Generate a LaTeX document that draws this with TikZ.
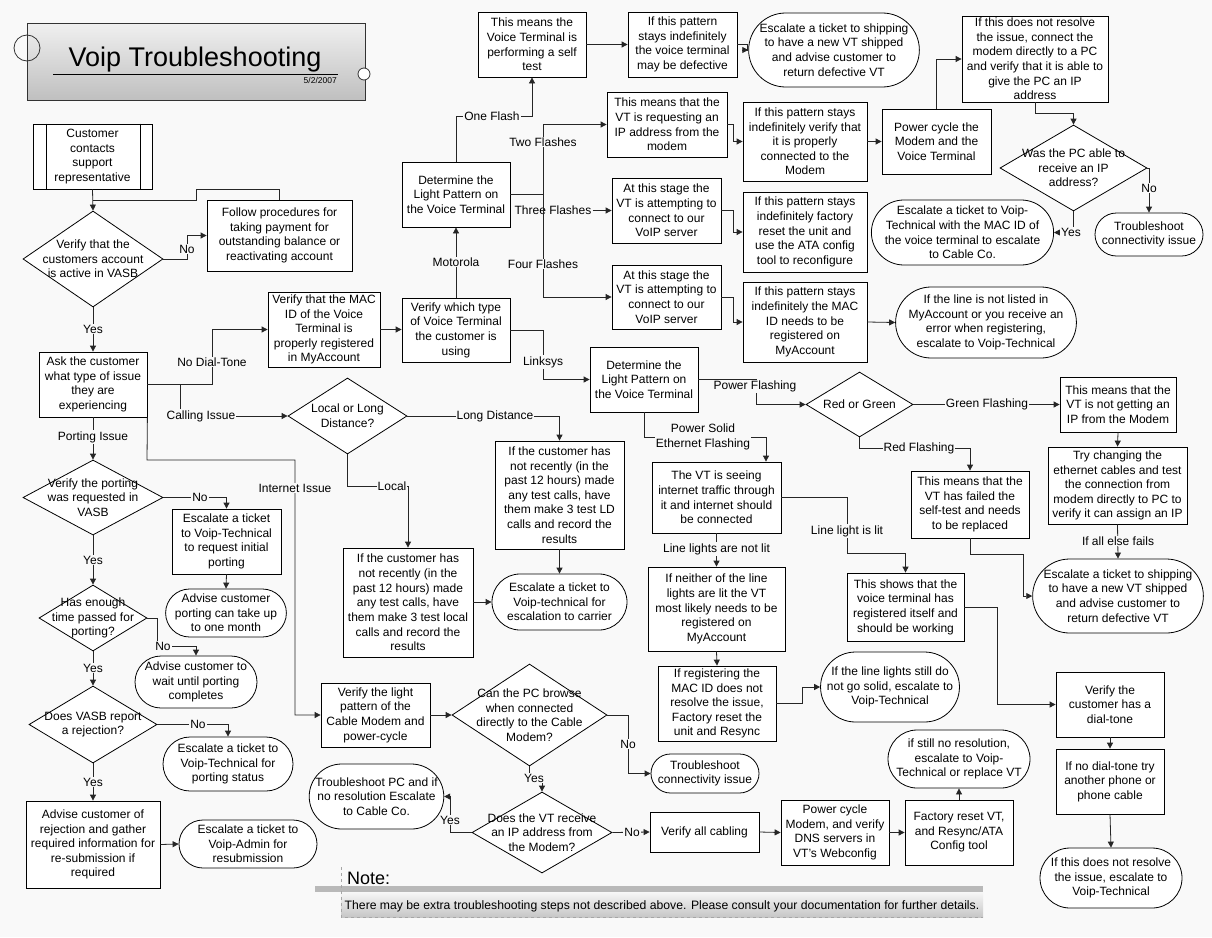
\documentclass[tikz,border=0pt]{standalone}
\usepackage{fontspec}
\setmainfont{Liberation Sans}
\usetikzlibrary{shapes.geometric,shapes.misc,arrows.meta}
\newcommand\myfs{\fontsize{12}{14.6}\selectfont}
\definecolor{bgc}{gray}{0.975}
\begin{document}
\begin{tikzpicture}[x=1pt,y=-1pt,
  base/.style={font=\myfs, align=center, inner sep=0pt},
  bx/.style={base, rectangle, draw=black, fill=white, line width=0.8pt},
  tm/.style={base, rounded rectangle, draw=black, fill=white, line width=0.8pt},
  dm/.style={diamond, draw=black, fill=white, line width=0.8pt, inner sep=0pt},
  sz/.style 2 args={minimum width=#1pt, minimum height=#2pt},
  lab/.style={font=\myfs, fill=bgc, inner sep=1pt, align=center},
  ln/.style={draw=black!85, line width=0.8pt},
  ar/.style={ln, -{Triangle[length=6pt,width=6pt]}}]
\useasboundingbox (0,0) rectangle (1212,937);
\fill[bgc] (0,0) rectangle (1212,937);

% ---------- title ----------
\node[draw=black!80, line width=0.8pt, top color=gray!12, bottom color=gray!50, sz={338}{77}] (title) at (196,61.5) {};
\node[circle, draw=black!80, line width=0.8pt, minimum size=26pt, inner sep=0pt] (tc1) at (27,48) {};
\node[circle, draw=black!80, line width=0.8pt, fill=white, minimum size=12pt, inner sep=0pt] (tc2) at (364,74) {};
\node[font=\fontsize{27}{30}\selectfont, anchor=base, inner sep=0pt] (ttl) at (195,66) {Voip Troubleshooting};
\coordinate (ul1) at (53,74); \coordinate (ul2) at (338,74);
\draw[line width=0.8pt] (ul1) -- (ul2);
\node[font=\fontsize{8.5}{10}\selectfont, anchor=base east, inner sep=0pt] (date) at (337,83) {5/2/2007};

% ---------- left column ----------
\node[bx, sz={119}{65}] (start) at (92.5,156.5) {Customer\\contacts\\support\\representative};
\draw[line width=0.8pt] ([xshift=14pt]start.north west) -- ([xshift=14pt]start.south west);
\draw[line width=0.8pt] ([xshift=-12pt]start.north east) -- ([xshift=-12pt]start.south east);
\node[dm, sz={140}{96}] (d1) at (93,259) {};
\node[base] (d1t) at (d1) {Verify that the\\customers account\\is active in VASB};
\node[bx, sz={145}{71}] (follow) at (279.5,235.5) {Follow procedures for\\taking payment for\\outstanding balance or\\reactivating account};
\node[bx, sz={108}{65}] (ask) at (93,384.5) {Ask the customer\\what type of issue\\they are\\experiencing};
\node[dm, sz={140}{75}] (d2) at (93,497.5) {};
\node[base] (d2t) at (d2) {Verify the porting\\was requested in\\VASB};
\node[bx, sz={109}{65}] (escport) at (226.5,541.5) {Escalate a ticket\\to Voip-Technical\\to request initial\\porting};
\node[tm, sz={112}{48}] (advport) at (226,613) {Advise customer\\porting can take up\\to one month};
\node[dm, sz={108}{66}] (d3) at (93,618) {};
\node[base] (d3t) at (d3) {Has enough\\time passed for\\porting?};
\node[tm, sz={122}{52}] (advwait) at (196,682) {Advise customer to\\wait until porting\\completes};
\node[dm, sz={128}{77}] (d4) at (93,724.5) {};
\node[base] (d4t) at (d4) {Does VASB report\\a rejection?};
\node[tm, sz={130}{54}] (escstat) at (228,764) {Escalate a ticket to\\Voip-Technical for\\porting status};
\node[bx, sz={134}{87}] (advrej) at (93,844.5) {Advise customer of\\rejection and gather\\required information for\\re-submission if\\required};
\node[tm, sz={138}{48}] (escadmin) at (248,844) {Escalate a ticket to\\Voip-Admin for\\resubmission};

% ---------- no dial tone ----------
\node[bx, sz={112}{75}] (mac) at (324,329.5) {Verify that the MAC\\ID of the Voice\\Terminal is\\properly registered\\in MyAccount};
\node[bx, sz={108}{64}] (vtype) at (456,330) {Verify which type\\of Voice Terminal\\the customer is\\using};
\node[bx, sz={108}{65}] (detm) at (456,194.5) {Determine the\\Light Pattern on\\the Voice Terminal};
\node[bx, sz={108}{65}] (selftest) at (532,44.5) {This means the\\Voice Terminal is\\performing a self\\test};
\node[bx, sz={109}{65}] (defect) at (682.5,44.5) {If this pattern\\stays indefinitely\\the voice terminal\\may be defective};
\node[tm, sz={158}{74}] (ship1) at (834,50) {Escalate a ticket to shipping\\to have a new VT shipped\\and advise customer to\\return defective VT};
\node[bx, sz={120}{65}] (reqip) at (667,124.5) {This means that the\\VT is requesting an\\IP address from the\\modem};
\node[bx, sz={109}{65}] (att1) at (666.5,210.5) {At this stage the\\VT is attempting to\\connect to our\\VoIP server};
\node[bx, sz={109}{64}] (att2) at (666.5,297) {At this stage the\\VT is attempting to\\connect to our\\VoIP server};
\node[bx, sz={124}{79}] (verconn) at (805,141.5) {If this pattern stays\\indefinitely verify that\\it is properly\\connected to the\\Modem};
\node[bx, sz={124}{80}] (facres) at (805,232) {If this pattern stays\\indefinitely factory\\reset the unit and\\use the ATA config\\tool to reconfigure};
\node[bx, sz={124}{80}] (macreg) at (805,322) {If this pattern stays\\indefinitely the MAC\\ID needs to be\\registered on\\MyAccount};
\node[tm, sz={168}{71}] (notlisted) at (986,322.5) {If the line is not listed in\\MyAccount or you receive an\\error when registering,\\escalate to Voip-Technical};
\node[bx, sz={109}{65}] (pwrcyc) at (936.5,141.5) {Power cycle the\\Modem and the\\Voice Terminal};
\node[bx, sz={146}{86}] (notres) at (1035,59) {If this does not resolve\\the issue, connect the\\modem directly to a PC\\and verify that it is able to\\give the PC an IP\\address};
\node[dm, sz={147}{86}] (d5) at (1073.5,168) {};
\node[base] (d5t) at (d5) {Was the PC able to\\receive an IP\\address?};
\node[tm, sz={108}{43}] (tsconn1) at (1149,234.5) {Troubleshoot\\connectivity issue};
\node[tm, sz={169}{65}] (esccable) at (962.5,232.5) {Escalate a ticket to Voip-\\Technical with the MAC ID of\\the voice terminal to escalate\\to Cable Co.};

% ---------- linksys ----------
\node[bx, sz={108}{65}] (detl) at (644,379.5) {Determine the\\Light Pattern on\\the Voice Terminal};
\node[dm, sz={107}{65}] (rg) at (859.5,404.5) {};
\node[base] (rgt) at (rg) {Red or Green};
\node[bx, sz={116}{55}] (notip) at (1118,404.5) {This means that the\\VT is not getting an\\IP from the Modem};
\node[bx, sz={139}{77}] (trych) at (1117.5,485.5) {Try changing the\\ethernet cables and test\\the connection from\\modem directly to PC to\\verify it can assign an IP};
\node[tm, sz={158}{74}] (ship2) at (1118,596) {Escalate a ticket to shipping\\to have a new VT shipped\\and advise customer to\\return defective VT};
\node[bx, sz={118}{67}] (failed) at (970,504.5) {This means that the\\VT has failed the\\self-test and needs\\to be replaced};
\node[bx, sz={129}{71}] (seeing) at (716.5,497.5) {The VT is seeing\\internet traffic through\\it and internet should\\be connected};
\node[bx, sz={137}{84}] (neither) at (716.5,609) {If neither of the line\\lights are lit the VT\\most likely needs to be\\registered on\\MyAccount};
\node[bx, sz={118}{75}] (regmac) at (717,703.5) {If registering the\\MAC ID does not\\resolve the issue,\\Factory reset the\\unit and Resync};
\node[tm, sz={134}{70}] (linestill) at (890,687) {If the line lights still do\\not go solid, escalate to\\Voip-Technical};
\node[bx, sz={117}{68}] (shows) at (905.5,607) {This shows that the\\voice terminal has\\registered itself and\\should be working};
\node[bx, sz={108}{65}] (dialtone) at (1110,704.5) {Verify the\\customer has a\\dial-tone};
\node[bx, sz={108}{65}] (nodial) at (1110,781.5) {If no dial-tone try\\another phone or\\phone cable};
\node[tm, sz={142}{60}] (finalesc) at (1111,878) {If this does not resolve\\the issue, escalate to\\Voip-Technical};

% ---------- calling issue ----------
\node[dm, sz={119}{76}] (d6) at (347.5,416) {};
\node[base] (d6t) at (d6) {Local or Long\\Distance?};
\node[bx, sz={129}{108}] (ldbox) at (559.5,495) {If the customer has\\not recently (in the\\past 12 hours) made\\any test calls, have\\them make 3 test LD\\calls and record the\\results};
\node[tm, sz={135}{56}] (esccarrier) at (559.5,602) {Escalate a ticket to\\Voip-technical for\\escalation to carrier};
\node[bx, sz={130}{109}] (localbox) at (408,602.5) {If the customer has\\not recently (in the\\past 12 hours) made\\any test calls, have\\them make 3 test local\\calls and record the\\results};

% ---------- internet issue ----------
\node[bx, sz={109}{64}] (cablemod) at (375.5,715) {Verify the light\\pattern of the\\Cable Modem and\\power-cycle};
\node[dm, sz={155}{102}] (d7) at (529.5,715) {};
\node[base] (d7t) at (d7) {Can the PC browse\\when connected\\directly to the Cable\\Modem?};
\node[tm, sz={108}{39}] (tsconn2) at (705,773.5) {Troubleshoot\\connectivity issue};
\node[dm, sz={140}{81}] (d8) at (542,832.5) {};
\node[base] (d8t) at (d8) {Does the VT receive\\an IP address from\\the Modem?};
\node[tm, sz={133}{65}] (tspc) at (376.5,796.5) {Troubleshoot PC and if\\no resolution Escalate\\to Cable Co.};
\node[bx, sz={109}{40}] (cabling) at (704.5,832) {Verify all cabling};
\node[bx, sz={108}{65}] (pcdns) at (835,832.5) {Power cycle\\Modem, and verify\\DNS servers in\\VT's Webconfig};
\node[bx, sz={108}{65}] (factvt) at (959,832.5) {Factory reset VT,\\and Resync/ATA\\Config tool};
\node[tm, sz={142}{58}] (stillno) at (959,759) {if still no resolution,\\escalate to Voip-\\Technical or replace VT};

% ---------- connectors: left column ----------
\draw[ar] (start.south) -- (d1.north);
\draw[ar] (d1.east) -- (187,259) |- (follow.west);
\node[lab] (lno1) at (187,249) {No};
\draw[ln] (follow.north) -- (follow.north |- 0,189) -- (196,189) -- (196,200) -- (93,200);
\draw[ar] (d1.south) -- (ask.north);
\node[lab] (lyes1) at (93,329) {Yes};
\draw[ar] (ask.east |- 0,384) -- (212,384) |- (mac.west);
\node[lab] (lndt) at (212,362) {No Dial-Tone};
\draw[ar] (180,384) -- (180,416) -- (d6.west);
\node[lab] (lcall) at (201,416) {Calling Issue};
\draw[ar] (ask.south east) -- (147,460) -- (295,460) |- (cablemod.west);
\node[lab] (lint) at (295,488) {Internet Issue};
\draw[ar] (ask.south) -- (d2.north);
\node[lab] (lport) at (93,437) {Porting Issue};
\draw[ar] (d2.east) -| (escport.north);
\node[lab] (lno2) at (200,497.5) {No};
\draw[ar] (escport.south) -- (advport.north);
\draw[ar] (d2.south) -- (d3.north);
\node[lab] (lyes2) at (93,560) {Yes};
\draw[ar] (d3.east) -- (157,618) -- (157,646) -| (advwait.north);
\node[lab] (lno3) at (163,646) {No};
\draw[ar] (d3.south) -- (d4.north);
\node[lab] (lyes3) at (93,668) {Yes};
\draw[ar] (d4.east) -| (escstat.north);
\node[lab] (lno4) at (198,724.5) {No};
\draw[ar] (d4.south) -- (advrej.north);
\node[lab] (lyes4) at (93,782) {Yes};
\draw[ar] (advrej.east) -- (escadmin.west);

% ---------- connectors: motorola ----------
\draw[ar] (mac.east) -- (mac.east -| vtype.west);
\draw[ar] (vtype.north) -- (detm.south);
\node[lab] (lmot) at (456,262) {Motorola};
\draw[ar] (detm.north) -- (detm.north |- 0,116) -| (selftest.south);
\node[lab] (lone) at (492,116) {One Flash};
\draw[ar] (selftest.east) -- (defect.west);
\draw[ar] (defect.east) -- (747,44.5) |- (ship1.west);
\draw[draw=black!85, line width=1.4pt] (detm.east) -- (543,194.5);
\draw[ln] (543,124.5) -- (543,297);
\draw[ar] (543,124.5) -- (reqip.west);
\node[lab] (ltwo) at (543,142) {Two Flashes};
\node[lab] (lthree) at (553,210.5) {Three Flashes};
\draw[ar] (lthree.east) -- (att1.west);
\draw[ln] (543,202) -- (543,219);
\draw[ar] (543,297) -- (att2.west);
\node[lab] (lfour) at (543,264) {Four Flashes};
\draw[ar] (reqip.east) -- (733,124.5) |- (verconn.west);
\draw[ar] (att1.east) -- (733,210.5) |- (facres.west);
\draw[ar] (att2.east) -- (733,297) |- (macreg.west);
\draw[ar] (macreg.east) -- (notlisted.west);
\draw[ar] (verconn.east) -- (pwrcyc.west);
\draw[ar] (pwrcyc.north) |- (notres.west);
\draw[ar] (notres.south) -- (1035,113) -| (d5.north);
\draw[ar] (d5.east) -| (tsconn1.north);
\node[lab] (lno5) at (1149,188) {No};
\draw[ar] (d5.south) |- (esccable.east);
\node[lab] (lyes5) at (1071,232.5) {Yes};

% ---------- connectors: linksys ----------
\draw[ar] (vtype.east) -- (543,330) |- (detl.west);
\node[lab] (llink) at (543,362) {Linksys};
\draw[ar] (detl.east |- 0,379) -- (756,379) -- (756,404.5) -- (rg.west);
\node[lab] (lpf) at (755,386.5) {Power Flashing};
\draw[ar] (rg.east) -- (notip.west);
\node[lab] (lgf) at (987,404.5) {Green Flashing};
\draw[ar] (notip.south) -- (trych.north);
\draw[ar] (trych.south) -- (ship2.north);
\node[lab] (lelse) at (1118,541) {If all else fails};
\draw[ar] (rg.south) -- (rg.south |- 0,448) -| (failed.north);
\node[lab] (lrf) at (919,448) {Red Flashing};
\draw[ar] (failed.south) -- (970,554) -- (1023,554) |- (ship2.west);
\coordinate (kps) at (766,437);
\draw[ar] (detl.south) |- (kps) -- (kps |- seeing.north);
\node[lab] (lps) at (703,437) {Power Solid\\Ethernet Flashing};
\draw[ar] (seeing.south) -- (neither.north);
\node[lab] (lnotlit) at (716.5,549) {Line lights are not lit};
\draw[ar] (neither.south) -- (regmac.north);
\draw[ar] (regmac.east) -- (802,703.5) |- (linestill.west);
\draw[ar] (seeing.east) -- (847,497.5) -- (847,553) -| (shows.north);
\node[lab] (llit) at (847,531) {Line light is lit};
\draw[ar] (shows.east) -- (997,607) |- (dialtone.west);
\draw[ar] (dialtone.south) -- (nodial.north);
\draw[ar] (nodial.south) -- (finalesc.north);

% ---------- connectors: calling ----------
\draw[ar] (d6.east) -| (ldbox.north);
\node[lab] (lld) at (495,416) {Long Distance};
\draw[ar] (ldbox.south) -- (esccarrier.north);
\draw[ar] (d6.south) -- (d6.south |- 0,486) -| (localbox.north);
\node[lab] (lloc) at (392,486) {Local};
\draw[ar] (localbox.east |- esccarrier.west) -- (esccarrier.west);

% ---------- connectors: internet ----------
\draw[ar] (cablemod.east) -- (d7.west);
\draw[ar] (d7.east) -- (628,715) |- (tsconn2.west);
\node[lab] (lno7) at (628,744) {No};
\draw[ar] (d7.south) -- (529.5,778) -- (542,778) -- (d8.north);
\node[lab] (lyes7) at (534,778) {Yes};
\draw[ar] (d8.west) -- (450,832.5) |- (tspc.east);
\node[lab] (lyes8) at (450,820) {Yes};
\draw[ar] (d8.east) -- (cabling.west);
\node[lab] (lno8) at (632,832.5) {No};
\draw[ar] (cabling.east) -- (pcdns.west);
\draw[ar] (pcdns.east) -- (factvt.west);
\draw[ar] (factvt.north) -- (stillno.south);

% ---------- note ----------
\fill[gray!55] (315,886) rectangle (983,892);
\shade[top color=gray!6, bottom color=gray!45] (341,892) rectangle (983,917);
\draw[gray!70, dashed, line width=0.8pt] (341,867) -- (341,917) -- (983,917);
\node[font=\fontsize{18}{20}\selectfont, anchor=base west, inner sep=0pt] (note) at (347,884) {Note:};
\node[font=\fontsize{12.2}{14}\selectfont, inner sep=0pt] (notetxt) at (662,906) {There may be extra troubleshooting steps not described above. Please consult your documentation for further details.};
\end{tikzpicture}
\end{document}
